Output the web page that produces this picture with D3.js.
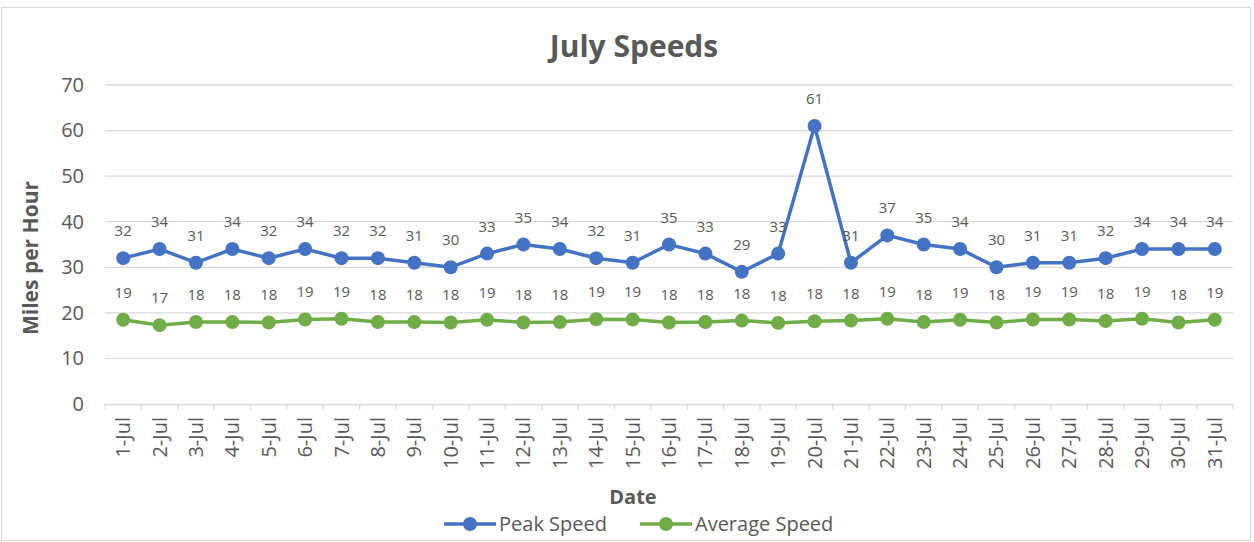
<!DOCTYPE html>
<html>
<head>
<meta charset="utf-8">
<script src="https://cdn.jsdelivr.net/npm/d3@7"></script>
<style>
  body { margin: 0; background: #fff; }
  text { font-family: "Open Sans", "Noto Sans", sans-serif; fill: #595959; }
</style>
</head>
<body>
<svg width="1254" height="542"></svg>
<script>
var dates = ["1-Jul","2-Jul","3-Jul","4-Jul","5-Jul","6-Jul","7-Jul","8-Jul","9-Jul","10-Jul",
             "11-Jul","12-Jul","13-Jul","14-Jul","15-Jul","16-Jul","17-Jul","18-Jul","19-Jul","20-Jul",
             "21-Jul","22-Jul","23-Jul","24-Jul","25-Jul","26-Jul","27-Jul","28-Jul","29-Jul","30-Jul","31-Jul"];
var peakSpeed = [32,34,31,34,32,34,32,32,31,30,33,35,34,32,31,35,33,29,33,61,31,37,35,34,30,31,31,32,34,34,34];
var avgSpeed = [18.5,17.3,18.0,18.0,17.9,18.55,18.7,18.0,18.0,17.9,18.5,17.9,18.0,18.6,18.55,17.9,18.0,18.3,17.8,18.15,
                18.3,18.7,18.0,18.5,17.9,18.55,18.55,18.2,18.7,17.9,18.5];
var yTicks = [0,10,20,30,40,50,60,70];
var seriesNames = ["Peak Speed", "Average Speed"];
var colors = ["#4472C4", "#70AD47"];

function main() {
  var svg = d3.select("svg");
  var left = 105, right = 1233, top = 85, bottom = 404;

  svg.append("rect")
     .attr("x", 1.5).attr("y", 7.5)
     .attr("width", 1249).attr("height", 533)
     .attr("fill", "#fff")
     .attr("stroke", "#d9d9d9");

  var x = d3.scaleBand().domain(dates).range([left, right]);
  var y = d3.scaleLinear().domain([0, 70]).range([bottom, top]);

  // gridlines
  svg.append("g").selectAll("line")
     .data(yTicks.filter(function(d) { return d > 0; }))
     .enter().append("line")
     .attr("x1", left).attr("x2", right)
     .attr("y1", function(d) { return y(d); })
     .attr("y2", function(d) { return y(d); })
     .attr("stroke", "#d9d9d9").attr("stroke-width", 1.3);

  // y axis labels
  var yAxis = svg.append("g")
     .attr("transform", "translate(" + left + ",0)")
     .call(d3.axisLeft(y).tickValues(yTicks).tickSize(0).tickPadding(21));
  yAxis.select(".domain").remove();
  yAxis.selectAll("text").attr("font-size", "20px").style("fill", "#595959")
       .attr("font-family", "'Open Sans', sans-serif");

  // x axis
  var xAxis = svg.append("g")
     .attr("transform", "translate(0," + bottom + ")")
     .call(d3.axisBottom(x).tickSize(0).tickPadding(0));
  xAxis.select(".domain").attr("stroke", "#d9d9d9").attr("stroke-width", 1.3);
  xAxis.selectAll("text")
       .attr("font-size", "20px")
       .attr("font-family", "'Open Sans', sans-serif")
       .style("fill", "#595959")
       .style("text-anchor", "end")
       .attr("transform", "rotate(-90)")
       .attr("x", -13).attr("y", 0).attr("dy", "0.35em");

  // tick marks at category boundaries
  var bounds = dates.map(function(d) { return x(d); }).concat([right]);
  svg.append("g").selectAll("line")
     .data(bounds)
     .enter().append("line")
     .attr("x1", function(d) { return d; })
     .attr("x2", function(d) { return d; })
     .attr("y1", bottom).attr("y2", bottom + 6)
     .attr("stroke", "#d9d9d9").attr("stroke-width", 1.3);

  var series = [peakSpeed, avgSpeed];
  var line = d3.line()
     .x(function(d, i) { return x(dates[i]) + x.bandwidth() / 2; })
     .y(function(d) { return y(d); });

  series.forEach(function(vals, s) {
    var g = svg.append("g");
    g.append("path")
     .datum(vals)
     .attr("d", line)
     .attr("fill", "none")
     .attr("stroke", colors[s])
     .attr("stroke-width", 3.5);
    g.selectAll("circle")
     .data(vals)
     .enter().append("circle")
     .attr("cx", function(d, i) { return x(dates[i]) + x.bandwidth() / 2; })
     .attr("cy", function(d) { return y(d); })
     .attr("r", 7)
     .attr("fill", colors[s]);
    g.selectAll("text")
     .data(vals)
     .enter().append("text")
     .attr("x", function(d, i) { return x(dates[i]) + x.bandwidth() / 2; })
     .attr("y", function(d) { return y(d) - 22; })
     .attr("text-anchor", "middle")
     .attr("font-size", "15px")
     .text(function(d) { return Math.round(d); });
  });

  // title
  svg.append("text")
     .attr("x", 634).attr("y", 57)
     .attr("text-anchor", "middle")
     .attr("font-size", "30px")
     .attr("font-weight", "bold")
     .text("July Speeds");

  // axis titles
  svg.append("text")
     .attr("transform", "translate(38,258) rotate(-90)")
     .attr("text-anchor", "middle")
     .attr("font-size", "21px")
     .attr("font-weight", "bold")
     .text("Miles per Hour");

  svg.append("text")
     .attr("x", 633).attr("y", 504)
     .attr("text-anchor", "middle")
     .attr("font-size", "20px")
     .attr("font-weight", "bold")
     .text("Date");

  // legend
  var legendX = [444, 640];
  seriesNames.forEach(function(name, s) {
    var lg = svg.append("g").attr("transform", "translate(" + legendX[s] + ",524)");
    lg.append("line").attr("x1", 0).attr("x2", 52).attr("y1", 0).attr("y2", 0)
      .attr("stroke", colors[s]).attr("stroke-width", 3.5);
    lg.append("circle").attr("cx", 26).attr("cy", 0).attr("r", 7).attr("fill", colors[s]);
    lg.append("text").attr("x", 55).attr("y", 0).attr("dy", "0.35em")
      .attr("font-size", "20px").text(name);
  });
}
main();
</script>
</body>
</html>
